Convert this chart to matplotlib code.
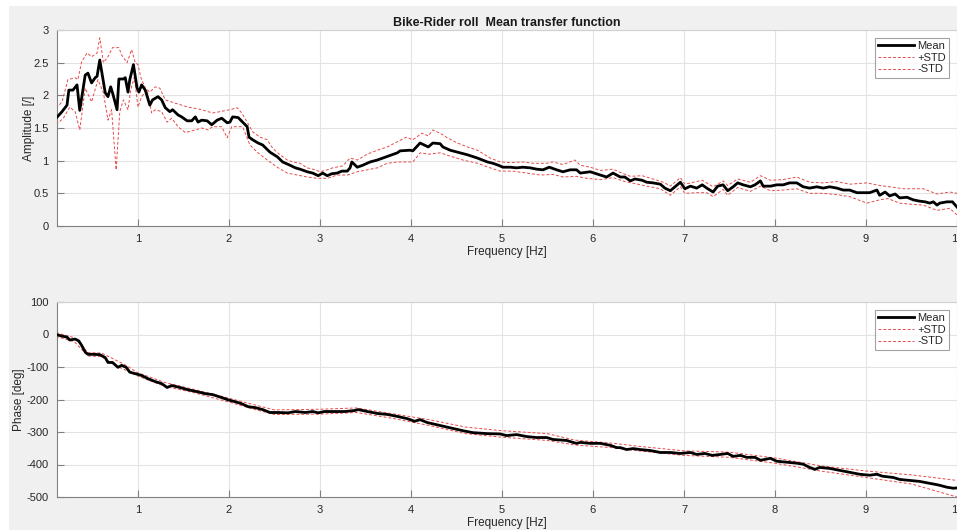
import numpy as np
import matplotlib
matplotlib.use('Agg')
import matplotlib.pyplot as plt
from matplotlib.patches import Rectangle

plt.rcParams['font.family'] = ['Liberation Sans', 'DejaVu Sans']
plt.rcParams['axes.unicode_minus'] = False

#amplitude: mean curve
f_amp = [0.10, 0.165, 0.22, 0.24, 0.285, 0.33, 0.36, 0.42, 0.45, 0.49, 0.53, 0.55, 0.58, 0.64, 0.67,
         0.70, 0.72, 0.77, 0.79, 0.84, 0.86, 0.89, 0.91, 0.95, 0.99, 1.01, 1.04, 1.08, 1.13, 1.16,
         1.22, 1.26, 1.30, 1.35, 1.38, 1.44, 1.48, 1.54, 1.59, 1.63, 1.66, 1.70, 1.76, 1.81, 1.87,
         1.92, 1.98, 2.01, 2.04, 2.10, 2.15, 2.20, 2.22, 2.26, 2.32, 2.37, 2.45, 2.53, 2.59, 2.67,
         2.73, 2.78, 2.86, 2.92, 2.98, 3.03, 3.08, 3.13, 3.19, 3.24, 3.30, 3.33, 3.35, 3.41, 3.47,
         3.55, 3.63, 3.69, 3.77, 3.85, 3.88, 3.99, 4.02, 4.10, 4.19, 4.24, 4.32, 4.35, 4.43, 4.51,
         4.62, 4.73, 4.84, 4.90, 4.96, 5.01, 5.09, 5.16, 5.23, 5.31, 5.38, 5.45, 5.52, 5.60, 5.67,
         5.75, 5.82, 5.86, 5.97, 6.08, 6.15, 6.22, 6.30, 6.35, 6.41, 6.46, 6.54, 6.59, 6.66, 6.74,
         6.79, 6.85, 6.90, 6.96, 7.01, 7.07, 7.14, 7.20, 7.25, 7.32, 7.37, 7.43, 7.48, 7.54, 7.59,
         7.65, 7.73, 7.78, 7.84, 7.87, 7.95, 8.02, 8.09, 8.16, 8.24, 8.31, 8.38, 8.46, 8.53, 8.60,
         8.68, 8.75, 8.82, 8.90, 8.97, 9.04, 9.12, 9.15, 9.21, 9.26, 9.32, 9.37, 9.45, 9.52, 9.59,
         9.65, 9.70, 9.74, 9.78, 9.81, 9.89, 9.95, 10.0]
amp_mean = [1.65, 1.75, 1.85, 2.08, 2.08, 2.16, 1.77, 2.31, 2.34, 2.19, 2.27, 2.29, 2.54, 2.04, 1.98,
            2.13, 2.04, 1.78, 2.25, 2.25, 2.27, 2.05, 2.24, 2.47, 2.11, 2.05, 2.16, 2.08, 1.85, 1.93,
            1.98, 1.93, 1.81, 1.75, 1.78, 1.70, 1.67, 1.61, 1.61, 1.67, 1.59, 1.62, 1.61, 1.55, 1.62,
            1.65, 1.58, 1.59, 1.67, 1.66, 1.59, 1.52, 1.36, 1.32, 1.27, 1.24, 1.13, 1.06, 0.98, 0.93,
            0.89, 0.87, 0.83, 0.81, 0.77, 0.81, 0.77, 0.80, 0.81, 0.84, 0.84, 0.89, 0.98, 0.90, 0.93,
            0.98, 1.01, 1.04, 1.08, 1.12, 1.15, 1.16, 1.15, 1.27, 1.21, 1.27, 1.26, 1.21, 1.16, 1.13,
            1.09, 1.04, 0.98, 0.96, 0.93, 0.90, 0.90, 0.89, 0.90, 0.89, 0.87, 0.86, 0.90, 0.86, 0.83,
            0.86, 0.86, 0.81, 0.83, 0.78, 0.75, 0.81, 0.75, 0.75, 0.69, 0.72, 0.70, 0.67, 0.66, 0.64,
            0.58, 0.54, 0.60, 0.67, 0.57, 0.61, 0.58, 0.63, 0.58, 0.52, 0.61, 0.63, 0.54, 0.60, 0.66,
            0.63, 0.60, 0.63, 0.69, 0.61, 0.61, 0.63, 0.63, 0.66, 0.66, 0.60, 0.58, 0.60, 0.58, 0.60,
            0.58, 0.55, 0.55, 0.51, 0.51, 0.51, 0.55, 0.47, 0.52, 0.46, 0.49, 0.43, 0.44, 0.40, 0.38,
            0.37, 0.35, 0.37, 0.32, 0.35, 0.37, 0.37, 0.29]

#amplitude: +STD
f_amp_hi = [0.10, 0.165, 0.23, 0.31, 0.34, 0.38, 0.44, 0.49, 0.55, 0.58, 0.62, 0.67, 0.72, 0.79, 0.82,
            0.88, 0.93, 0.97, 1.00, 1.03, 1.08, 1.13, 1.19, 1.24, 1.30, 1.41, 1.55, 1.63, 1.70, 1.77,
            1.82, 1.90, 2.01, 2.09, 2.14, 2.20, 2.26, 2.34, 2.42, 2.48, 2.56, 2.64, 2.70, 2.78, 2.86,
            2.95, 3.00, 3.08, 3.14, 3.25, 3.33, 3.41, 3.52, 3.63, 3.74, 3.85, 3.95, 4.02, 4.12, 4.19,
            4.24, 4.32, 4.40, 4.51, 4.62, 4.73, 4.87, 4.98, 5.09, 5.23, 5.34, 5.49, 5.56, 5.67, 5.80,
            5.86, 5.97, 6.08, 6.22, 6.30, 6.41, 6.54, 6.66, 6.79, 6.85, 6.96, 7.01, 7.20, 7.32, 7.43,
            7.48, 7.59, 7.73, 7.84, 7.95, 8.09, 8.24, 8.38, 8.53, 8.68, 8.82, 9.01, 9.15, 9.26, 9.41,
            9.63, 9.78, 9.92, 10.0]
amp_hi = [1.80, 1.90, 2.24, 2.27, 2.24, 2.51, 2.65, 2.59, 2.65, 2.88, 2.50, 2.59, 2.73, 2.73, 2.62,
          2.50, 2.70, 2.50, 2.47, 2.28, 2.11, 2.05, 2.13, 2.11, 1.93, 1.88, 1.82, 1.80, 1.78, 1.75,
          1.73, 1.75, 1.78, 1.81, 1.73, 1.59, 1.44, 1.36, 1.32, 1.19, 1.09, 1.01, 0.98, 0.96, 0.89,
          0.86, 0.83, 0.86, 0.89, 0.92, 1.04, 1.01, 1.10, 1.16, 1.21, 1.29, 1.36, 1.32, 1.42, 1.38,
          1.47, 1.42, 1.35, 1.27, 1.21, 1.16, 1.04, 0.98, 0.97, 0.98, 0.96, 0.96, 0.98, 0.94, 1.01,
          0.93, 0.90, 0.85, 0.87, 0.82, 0.76, 0.77, 0.72, 0.66, 0.61, 0.74, 0.64, 0.70, 0.60, 0.69,
          0.62, 0.72, 0.67, 0.77, 0.70, 0.71, 0.75, 0.67, 0.66, 0.68, 0.64, 0.66, 0.62, 0.60, 0.57,
          0.57, 0.49, 0.52, 0.50]

#amplitude: -STD
f_amp_lo = [0.10, 0.18, 0.25, 0.31, 0.36, 0.42, 0.49, 0.56, 0.62, 0.67, 0.71, 0.76, 0.80, 0.84, 0.89,
            0.92, 0.96, 1.00, 1.04, 1.10, 1.15, 1.19, 1.26, 1.32, 1.37, 1.44, 1.52, 1.63, 1.70, 1.77,
            1.82, 1.92, 1.98, 2.03, 2.15, 2.23, 2.31, 2.42, 2.53, 2.64, 2.75, 2.86, 2.97, 3.08, 3.19,
            3.30, 3.41, 3.52, 3.63, 3.74, 3.85, 3.91, 4.02, 4.10, 4.20, 4.32, 4.43, 4.57, 4.73, 4.87,
            4.98, 5.12, 5.27, 5.42, 5.56, 5.67, 5.82, 5.93, 6.08, 6.22, 6.35, 6.46, 6.59, 6.74, 6.85,
            6.96, 7.01, 7.14, 7.25, 7.32, 7.43, 7.48, 7.59, 7.73, 7.84, 7.95, 8.09, 8.24, 8.38, 8.53,
            8.68, 8.82, 9.01, 9.15, 9.24, 9.37, 9.52, 9.63, 9.78, 9.92, 10.0]
amp_lo = [1.55, 1.65, 1.82, 1.75, 1.47, 2.11, 1.90, 2.24, 2.04, 1.62, 1.78, 0.86, 1.75, 1.93, 1.78,
          2.08, 2.28, 1.82, 1.98, 2.08, 1.73, 1.78, 1.75, 1.59, 1.65, 1.52, 1.43, 1.47, 1.50, 1.47,
          1.52, 1.52, 1.35, 1.52, 1.52, 1.24, 1.13, 1.01, 0.90, 0.81, 0.78, 0.75, 0.73, 0.73, 0.78,
          0.78, 0.83, 0.86, 0.89, 0.96, 0.98, 0.98, 0.98, 1.12, 1.10, 1.12, 1.07, 1.01, 0.96, 0.89,
          0.84, 0.84, 0.81, 0.78, 0.79, 0.75, 0.76, 0.73, 0.71, 0.74, 0.68, 0.65, 0.61, 0.57, 0.47,
          0.60, 0.50, 0.51, 0.51, 0.45, 0.56, 0.47, 0.59, 0.53, 0.61, 0.54, 0.55, 0.57, 0.50, 0.50,
          0.48, 0.45, 0.35, 0.40, 0.42, 0.35, 0.33, 0.32, 0.24, 0.27, 0.17]

#phase: mean curve
f_ph = [0.10, 0.165, 0.22, 0.25, 0.31, 0.35, 0.38, 0.42, 0.45, 0.51, 0.58, 0.64, 0.67, 0.72, 0.78,
        0.82, 0.87, 0.91, 0.99, 1.04, 1.11, 1.19, 1.26, 1.32, 1.37, 1.46, 1.55, 1.65, 1.74, 1.82,
        1.92, 1.99, 2.07, 2.14, 2.21, 2.29, 2.37, 2.45, 2.54, 2.65, 2.73, 2.84, 2.92, 2.98, 3.05,
        3.16, 3.27, 3.38, 3.42, 3.52, 3.63, 3.74, 3.85, 3.96, 4.04, 4.10, 4.18, 4.32, 4.46, 4.57,
        4.68, 4.84, 4.98, 5.05, 5.16, 5.27, 5.38, 5.49, 5.56, 5.71, 5.78, 5.82, 5.86, 5.97, 6.08,
        6.19, 6.26, 6.30, 6.37, 6.44, 6.52, 6.63, 6.74, 6.85, 6.96, 7.07, 7.14, 7.23, 7.31, 7.40,
        7.48, 7.54, 7.62, 7.69, 7.78, 7.84, 7.95, 8.02, 8.13, 8.24, 8.31, 8.38, 8.44, 8.49, 8.60,
        8.71, 8.82, 8.93, 9.04, 9.12, 9.18, 9.30, 9.37, 9.48, 9.59, 9.70, 9.76, 9.81, 9.89, 9.96,
        10.0]
ph_mean = [0, -5, -8, -17, -14, -20, -33, -54, -61, -61, -62, -71, -86, -86, -101,
           -95, -101, -116, -122, -126, -136, -145, -151, -163, -157, -163, -170, -176, -182, -185,
           -194, -201, -207, -213, -222, -225, -231, -240, -240, -241, -237, -240, -237, -241, -237,
           -237, -237, -234, -231, -237, -243, -246, -252, -259, -267, -262, -271, -280, -289, -296,
           -302, -305, -306, -311, -308, -314, -317, -317, -323, -326, -332, -335, -332, -335, -335,
           -341, -348, -348, -354, -351, -354, -357, -363, -363, -366, -363, -369, -366, -372, -369,
           -366, -375, -372, -378, -378, -387, -381, -390, -393, -396, -399, -409, -415, -409, -412,
           -418, -424, -430, -433, -430, -436, -440, -446, -449, -452, -458, -461, -464, -470, -473,
           -472]

#phase: +STD / -STD
f_ph_band = [0.10, 0.30, 0.45, 0.60, 0.75, 0.85, 1.00, 1.30, 1.60, 2.00, 2.30, 2.50, 3.00, 3.40, 3.80,
             4.20, 4.60, 5.00, 5.50, 5.80, 6.20, 6.50, 7.00, 7.50, 8.00, 8.50, 9.00, 9.50, 10.0]
ph_hi = [6, -10, -56, -57, -78, -92, -118, -148, -168, -196, -218, -232, -230, -226, -244,
         -262, -285, -296, -305, -325, -334, -344, -358, -362, -380, -404, -420, -432, -449]
ph_lo = [-6, -22, -66, -68, -95, -108, -128, -160, -178, -208, -232, -246, -245, -240, -258,
         -280, -305, -316, -326, -340, -348, -358, -372, -378, -396, -420, -440, -460, -500]

red = '#e84a4a'

fig = plt.figure(figsize=(9.57, 5.30), dpi=100)
fig.patch.set_facecolor('white')
fig.add_artist(Rectangle((9/957, 0), 1, 1 - 6/530, transform=fig.transFigure,
                         facecolor='#f0f0f0', edgecolor='none', zorder=-10))

ax1 = fig.add_axes([57/957, 1 - 226/530, 900/957, 196/530])
ax2 = fig.add_axes([57/957, 1 - 497/530, 900/957, 195/530])


def style(ax):
    ax.set_facecolor('white')
    ax.grid(True, color='#e3e3e3', linewidth=0.8)
    ax.set_axisbelow(True)
    for s in ax.spines.values():
        s.set_color('#d0d0d0')
        s.set_linewidth(0.8)
    ax.spines['left'].set_color('#808080')
    ax.spines['bottom'].set_color('#808080')
    ax.tick_params(direction='in', length=5, width=0.8, color='#808080',
                   labelsize=8, labelcolor='#262626', pad=6)
    ax.set_xlim(0.11, 10)
    ax.set_xticks(range(1, 11))


# amplitude
ax1.plot(f_amp, amp_mean, 'k', lw=2.0, label='Mean', zorder=3)
ax1.plot(f_amp_hi, amp_hi, '--', color=red, lw=0.7, dashes=(3, 2), label='+STD')
ax1.plot(f_amp_lo, amp_lo, '--', color=red, lw=0.7, dashes=(3, 2), label='-STD')
style(ax1)
ax1.set_ylim(0, 3)
ax1.set_yticks([0, 0.5, 1, 1.5, 2, 2.5, 3])
ax1.set_yticklabels(['0', '0.5', '1', '1.5', '2', '2.5', '3'])
ax1.set_xlabel('Frequency [Hz]', fontsize=8.5, color='#262626', labelpad=1)
ax1.set_ylabel('Amplitude [/]', fontsize=8.5, color='#262626', labelpad=-1)
ax1.set_title('Bike-Rider roll  Mean transfer function', fontsize=9, fontweight='bold',
              color='#1a1a1a', pad=3)

# phase
ax2.plot(f_ph, ph_mean, 'k', lw=2.0, label='Mean', zorder=3)
ax2.plot(f_ph_band, ph_hi, '--', color=red, lw=0.7, dashes=(3, 2), label='+STD')
ax2.plot(f_ph_band, ph_lo, '--', color=red, lw=0.7, dashes=(3, 2), label='-STD')
style(ax2)
ax2.set_ylim(-500, 100)
ax2.set_yticks(range(-500, 101, 100))
ax2.set_xlabel('Frequency [Hz]', fontsize=8.5, color='#262626', labelpad=1)
ax2.set_ylabel('Phase [deg]', fontsize=8.5, color='#262626', labelpad=1)

for ax in (ax1, ax2):
    leg = ax.legend(loc='upper right', fontsize=8, frameon=True, fancybox=False,
                    handlelength=3.2, handletextpad=0.3, borderpad=0.3, labelspacing=0.15,
                    borderaxespad=0.7)
    leg.get_frame().set_edgecolor('#8c8c8c')
    leg.get_frame().set_linewidth(0.8)
    for t in leg.get_texts():
        t.set_color('#262626')

fig.savefig('out.png', dpi=100, facecolor=fig.get_facecolor())
